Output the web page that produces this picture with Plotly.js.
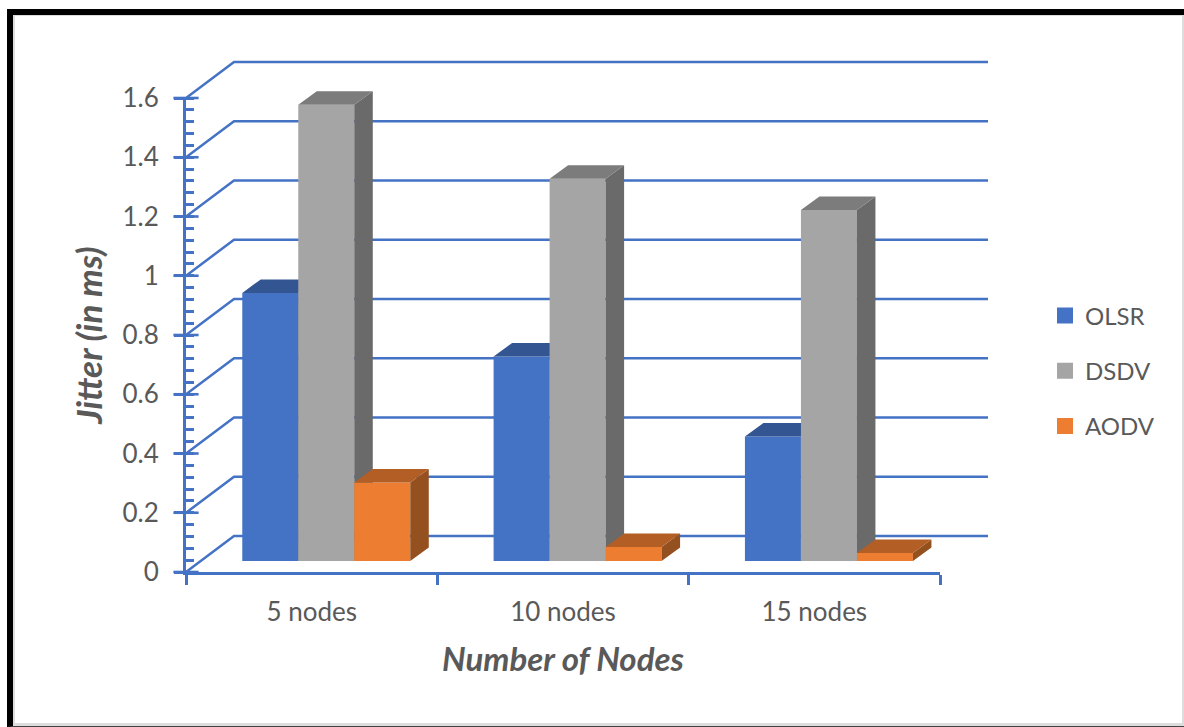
<!DOCTYPE html>
<html>
<head>
<meta charset="utf-8">
<script src="https://cdn.plot.ly/plotly-3.0.1.min.js"></script>
<style>
  html, body { margin: 0; padding: 0; background: #fff; overflow: hidden; }
  #frame { position: absolute; left: 7px; top: 9px; width: 1177px; height: 718px; box-sizing: border-box;
           border-left: 6px solid #000; border-top: 6px solid #000; border-bottom: 1px solid #444; }
  #frame-inner { position: absolute; inset: 0; box-sizing: border-box;
           border-left: 2px solid #ddd; border-top: 1px solid #ddd; border-right: 2px solid #ddd; border-bottom: 3px solid #ddd; }
  #chart { position: absolute; left: 0; top: 0; width: 1184px; height: 727px; }
</style>
</head>
<body>
<div id="frame"><div id="frame-inner"></div></div>
<div id="chart"></div>
<script>
// Jitter per routing protocol, grouped by network size
const categories = ['5 nodes', '10 nodes', '15 nodes'];
const olsr = [0.905, 0.69, 0.42];
const dsdv = [1.54, 1.29, 1.185];
const aodv = [0.265, 0.047, 0.027];
const yTicks = [0, 0.2, 0.4, 0.6, 0.8, 1, 1.2, 1.4, 1.6];
const yTickLabels = ['0', '0.2', '0.4', '0.6', '0.8', '1', '1.2', '1.4', '1.6'];

const grey = '#595959', axisBlue = '#4472C4', labelFont = 'Lato, "Open Sans", sans-serif';

// Axis box in pixels, and the larger drawing box that also holds the walls
const axisBox = { l: 186, t: 98, w: 754, h: 474 };
const box = { l: 186, t: 56, w: 808, h: 516 };
const pxX = 3 / axisBox.w, pxY = 1.6 / axisBox.h;
const xMaxDraw = box.w * pxX, yMaxDraw = box.h * pxY;

// Oblique offsets: back wall, floor position of the bar fronts, bar depth
const wall = { x: 48 * pxX, y: 36 * pxY };
const front = { x: 14.6 * pxX, y: 11 * pxY };
const depth = { x: 18.5 * pxX, y: 13.5 * pxY };
const barWidth = 56 * pxX;

const series = [
  { name: 'OLSR', values: olsr, face: '#4472C4', top: '#335693', side: '#2C4A7F' },
  { name: 'DSDV', values: dsdv, face: '#A5A5A5', top: '#7C7C7C', side: '#6A6A6A' },
  { name: 'AODV', values: aodv, face: '#ED7D31', top: '#B25E25', side: '#94501F' }
];

const traces = [];

// Floor and wall lines have their own wide axes, painted before the bars
const wallX = [], wallY = [];
yTicks.forEach(v => {
  wallX.push(0, wall.x, 3 + wall.x, null);
  wallY.push(v, v + wall.y, v + wall.y, null);
});
traces.push({ type: 'scatter', mode: 'lines', x: wallX, y: wallY, xaxis: 'x2', yaxis: 'y2', showlegend: false,
  hoverinfo: 'skip', line: { color: axisBlue, width: 2.5 } });

// Inner half of the major value ticks
traces.push({ type: 'scatter', mode: 'markers', x: yTicks.map(() => 0), y: yTicks, cliponaxis: false,
  showlegend: false, hoverinfo: 'skip',
  marker: { symbol: 'line-ew', size: 18, line: { color: axisBlue, width: 2.6 } } });

// Each series gets its own axes pair so that later series paint over earlier ones
series.forEach((s, i) => {
  const xa = 'x' + (i + 3), ya = 'y' + (i + 3);
  const centers = categories.map((_, c) => c + 0.5 + (i - 1) * barWidth + front.x);
  const topX = [], topY = [], sideX = [], sideY = [];
  s.values.forEach((v, c) => {
    const l = centers[c] - barWidth / 2, r = centers[c] + barWidth / 2, b = front.y, t = b + v;
    topX.push(l, r, r + depth.x, l + depth.x, l, null);
    topY.push(t, t, t + depth.y, t + depth.y, t, null);
    sideX.push(r, r, r + depth.x, r + depth.x, r, null);
    sideY.push(b, t, t + depth.y, b + depth.y, b, null);
  });
  traces.push({ type: 'bar', name: s.name, x: centers, y: s.values, base: categories.map(() => front.y),
    width: barWidth, xaxis: xa, yaxis: ya, showlegend: false, text: categories,
    hoverinfo: 'text+y', textposition: 'none', marker: { color: s.face, line: { width: 0 } } });
  [[sideX, sideY, s.side], [topX, topY, s.top]].forEach(([fx, fy, col]) => {
    traces.push({ type: 'scatter', mode: 'lines', x: fx, y: fy, xaxis: xa, yaxis: ya, fill: 'toself',
      fillcolor: col, line: { width: 0, color: col }, showlegend: false, hoverinfo: 'skip' });
  });
  // Legend key: an empty bar trace with a thick outline for the larger swatch
  traces.push({ type: 'bar', name: s.name, x: [null], y: [null], legendgroup: s.name, showlegend: true,
    marker: { color: s.face, line: { color: s.face, width: 4 } } });
});

const layout = {
  width: 1184, height: 727,
  margin: { l: box.l, t: box.t, r: 1184 - box.l - box.w, b: 727 - box.t - box.h, pad: 0 },
  paper_bgcolor: 'rgba(0,0,0,0)', plot_bgcolor: 'rgba(0,0,0,0)',
  font: { family: labelFont, color: grey, size: 26 },
  barmode: 'overlay',
  showlegend: true,
  // The visible axes span only the front of the box
  xaxis: {
    domain: [0, axisBox.w / box.w], anchor: 'y',
    range: [0, 3], fixedrange: true, showgrid: false, zeroline: false,
    showline: true, linecolor: axisBlue, linewidth: 3,
    tickmode: 'array', tickvals: [0.5, 1.5, 2.5], ticktext: categories, ticks: '', ticklabelstandoff: 15,
    tickfont: { size: 26, color: grey },
    minor: { ticks: 'outside', ticklen: 10, tickwidth: 2.6, tickcolor: axisBlue, tickmode: 'array', tickvals: [0, 1, 2, 3], showgrid: false },
    title: { text: 'Number of Nodes', standoff: 22, font: { size: 33, color: grey, weight: 'bold', style: 'italic' } }
  },
  yaxis: {
    domain: [0, axisBox.h / box.h], anchor: 'x',
    range: [0, 1.6], fixedrange: true, showgrid: false, zeroline: false,
    showline: true, linecolor: axisBlue, linewidth: 3,
    tickmode: 'array', tickvals: yTicks, ticktext: yTickLabels, ticks: 'outside', ticklen: 9, tickwidth: 2.6, tickcolor: axisBlue,
    ticklabelstandoff: 10, tickfont: { size: 26, color: grey },
    minor: { ticks: 'inside', ticklen: 8, tickwidth: 2.6, tickcolor: axisBlue, dtick: 0.04, showgrid: false },
    title: { text: 'Jitter (in ms)', standoff: 10, font: { size: 35, color: grey, weight: 'bold', style: 'italic' } }
  },
  legend: {
    xanchor: 'left', x: (1045 - box.l) / box.w, yanchor: 'middle', y: 1 - (371 - box.t) / box.h,
    traceorder: 'grouped', tracegroupgap: 21,
    font: { size: 24, color: grey }, bgcolor: 'rgba(0,0,0,0)', itemclick: false, itemdoubleclick: false
  }
};

// Hidden wide axes for the walls and each series, all on one pixel scale
[2, 3, 4, 5].forEach(n => {
  layout['xaxis' + n] = { domain: [0, 1], range: [0, xMaxDraw], anchor: 'y' + n, visible: false, fixedrange: true };
  layout['yaxis' + n] = { domain: [0, 1], range: [0, yMaxDraw], anchor: 'x' + n, visible: false, fixedrange: true };
});

Plotly.newPlot('chart', traces, layout, { displayModeBar: false, responsive: false });
</script>
</body>
</html>
